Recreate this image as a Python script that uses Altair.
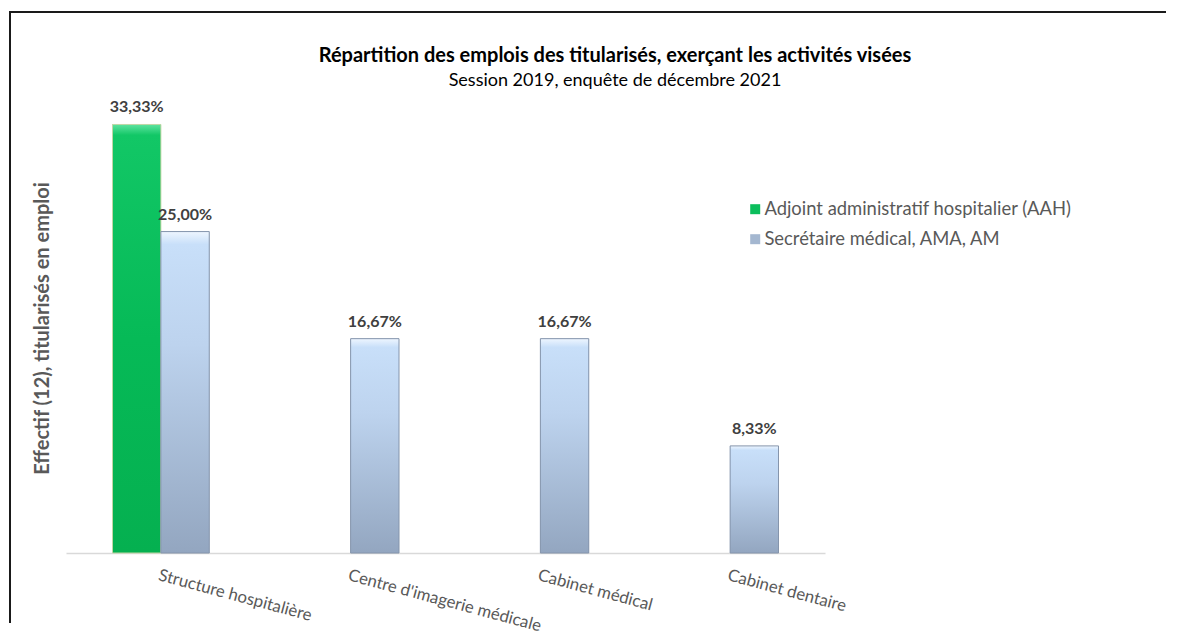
import altair as alt
import pandas as pd

categories = ["Structure hospitalière", "Centre d'imagerie médicale", "Cabinet médical", "Cabinet dentaire"]
series_names = ["Adjoint administratif hospitalier (AAH)", "Secrétaire médical, AMA, AM"]
aah_values = [33.33, 0, 0, 0]
sec_values = [25.00, 16.67, 16.67, 8.33]
title_text = "Répartition des emplois des titularisés, exerçant les activités visées"
subtitle_text = "Session 2019, enquête de décembre 2021"

rows = []
for c, a, s in zip(categories, aah_values, sec_values):
    rows.append({"cat": c, "series": series_names[0], "value": a})
    rows.append({"cat": c, "series": series_names[1], "value": s})
df = pd.DataFrame(rows)
df["label"] = df["value"].map(lambda v: f"{v:.2f}".replace(".", ",") + "%")
df = df[df["value"] > 0]

FONT = "Lato"
W, H = 759, 450

green_grad = alt.Gradient(
    gradient="linear", x1=0, y1=0, x2=0, y2=1,
    stops=[alt.GradientStop(offset=0, color="#5EE3A0"),
           alt.GradientStop(offset=0.025, color="#12C766"),
           alt.GradientStop(offset=0.5, color="#06BA57"),
           alt.GradientStop(offset=1, color="#05B050")])
blue_grad = alt.Gradient(
    gradient="linear", x1=0, y1=0, x2=0, y2=1,
    stops=[alt.GradientStop(offset=0, color="#EEF6FF"),
           alt.GradientStop(offset=0.04, color="#C8DFF9"),
           alt.GradientStop(offset=0.35, color="#BDD3EE"),
           alt.GradientStop(offset=1, color="#93A6C0")])

x_enc = alt.X("cat:N", sort=categories,
              scale=alt.Scale(paddingInner=0.49, paddingOuter=0.245),
              axis=alt.Axis(title=None, labelAngle=15, labelAlign="left", labelBaseline="top",
                            labelPadding=14, ticks=False, domainColor="#D9D9D9", domainWidth=1.5,
                            labelColor="#595959", labelFontSize=16.8, labelFont=FONT, labelLimit=400))
xo_enc = alt.XOffset("series:N", sort=series_names, scale=alt.Scale(domain=series_names, paddingInner=0, paddingOuter=0))
y_enc = alt.Y("value:Q", scale=alt.Scale(domain=[0, 35], nice=False),
              axis=alt.Axis(title="Effectif (12), titularisés en emploi", labels=False, ticks=False,
                            domain=False, grid=False, titleFontSize=20, titleFont=FONT,
                            titleColor="#595959", titleFontWeight="bold", titlePadding=14))

base = alt.Chart(df)

legend_bars = base.mark_bar().encode(
    x=x_enc, xOffset=xo_enc, y=y_enc,
    color=alt.Color("series:N", sort=series_names,
                    scale=alt.Scale(domain=series_names, range=["#0BBE5C", "#A4B7D0"]),
                    legend=alt.Legend(title=None, orient="none", legendX=680, legendY=97,
                                      symbolType="square", symbolSize=100, symbolStrokeWidth=0,
                                      labelFontSize=18.4, labelFont=FONT, labelColor="#595959",
                                      labelLimit=500, rowPadding=11, labelOffset=0)))

green_bars = base.transform_filter(alt.datum.series == series_names[0]).mark_bar(
    fill=green_grad, stroke="#C2D6A6", strokeWidth=1).encode(x=x_enc, xOffset=xo_enc, y=y_enc)
blue_bars = base.transform_filter(alt.datum.series == series_names[1]).mark_bar(
    fill=blue_grad, stroke="#8595AC", strokeWidth=1).encode(x=x_enc, xOffset=xo_enc, y=y_enc)

labels = base.mark_text(dy=-12, baseline="alphabetic", fontWeight="bold", fontSize=16,
                        font=FONT, color="#404040").encode(
    x=x_enc, xOffset=xo_enc, y=y_enc, text="label:N")

txt_data = alt.Data(values=[{"t": title_text, "s": subtitle_text}])
title_mark = alt.Chart(txt_data).mark_text(font=FONT, fontSize=20, fontWeight="bold", color="#000000",
                                           align="center", baseline="alphabetic").encode(
    x=alt.value(549), y=alt.value(-41), text="t:N")
subtitle_mark = alt.Chart(txt_data).mark_text(font=FONT, fontSize=18, color="#000000",
                                              align="center", baseline="alphabetic").encode(
    x=alt.value(549), y=alt.value(-17), text="s:N")

frame_data = alt.Data(values=[{"a": 1}])
frame_top = alt.Chart(frame_data).mark_rule(stroke="#1A1A1A", strokeWidth=2).encode(
    x=alt.value(-57), x2=alt.value(1100), y=alt.value(-91))
frame_left = alt.Chart(frame_data).mark_rule(stroke="#1A1A1A", strokeWidth=2).encode(
    x=alt.value(-56), y=alt.value(-92), y2=alt.value(520))

chart = alt.layer(frame_top, frame_left, title_mark, subtitle_mark,
                  legend_bars, green_bars, blue_bars, labels).properties(
    width=W, height=H,
    autosize=alt.AutoSizeParams(type="none"),
    padding={"left": 58, "top": 95, "right": 362, "bottom": 86},
    background="white",
).configure_view(stroke=None)

chart.save("out.html", embed_options={"renderer": "svg", "actions": False})
